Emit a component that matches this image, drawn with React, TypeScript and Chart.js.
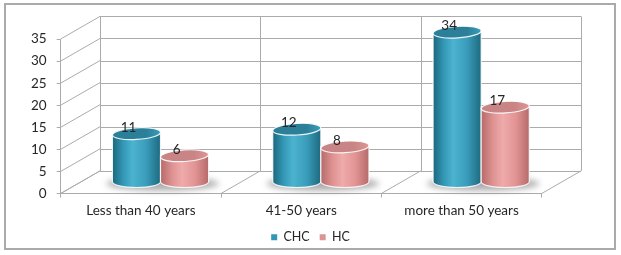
import React, { useEffect, useRef } from "react";
import { Chart, registerables } from "chart.js";

Chart.register(...registerables);

const categories = ["Less than 40 years", "41-50 years", "more than 50 years"];
const seriesNames = ["CHC", "HC"];
const chcValues = [11, 12, 34];
const hcValues = [6, 8, 17];
const yMin = 0;
const yMax = 35;
const yStep = 5;

const FONT = "Lato";
const TEXT = "#262626";
const GRID = "#ababab";
const DX = 39.3;
const DY = -22.6;

const palette = [
  {
    legend: "#3197b6",
    top: "#2b7f98",
    body: [
      [0, "#1c667c"],
      [0.22, "#3397b6"],
      [0.42, "#4cb3cf"],
      [0.7, "#3a9dbb"],
      [1, "#1d6a80"],
    ],
  },
  {
    legend: "#dd9494",
    top: "#c98585",
    body: [
      [0, "#b56969"],
      [0.25, "#df9393"],
      [0.45, "#efaaaa"],
      [0.72, "#e29494"],
      [1, "#b56a6a"],
    ],
  },
];

const threeD = {
  id: "threeD",
  beforeDatasetsDraw(chart: any) {
    const { ctx, chartArea: a, scales } = chart;
    const xs = scales.x;
    const ys = scales.y;
    const n = chart.data.labels.length;
    const tickPx: number[] = ys.ticks.map((t: any) => ys.getPixelForValue(t.value));
    const bounds: number[] = [];
    for (let k = 0; k <= n; k++) bounds.push(xs.getPixelForValue(k - 0.5));
    const r = (v: number) => Math.round(v) + 0.5;

    ctx.save();
    ctx.strokeStyle = GRID;
    ctx.lineWidth = 1;
    ctx.beginPath();
    for (const py of tickPx) {
      ctx.moveTo(a.left + DX, r(py + DY));
      ctx.lineTo(a.right + DX, r(py + DY));
      ctx.moveTo(a.left, py);
      ctx.lineTo(a.left + DX, py + DY);
    }
    for (const bx of bounds) {
      ctx.moveTo(r(bx + DX), a.top + DY);
      ctx.lineTo(r(bx + DX), a.bottom + DY);
      ctx.moveTo(bx, a.bottom);
      ctx.lineTo(bx + DX, a.bottom + DY);
    }
    ctx.stroke();

    const RY = 5.8;
    const ROT = -0.06;
    const bars: any[] = [];
    chart.data.datasets.forEach((ds: any, di: number) => {
      const meta = chart.getDatasetMeta(di);
      meta.data.forEach((el: any, i: number) => {
        const p = el.getProps(["x", "y", "base", "width"], true);
        bars.push({ di, i, cx: p.x + DX / 2, top: p.y + DY / 2, base: p.base + DY / 2, w: p.width, v: ds.data[i] });
      });
    });

    for (let i = 0; i < n; i++) {
      const group = bars.filter((b) => b.i === i);
      const l = Math.min(...group.map((b) => b.cx - b.w / 2));
      const rr = Math.max(...group.map((b) => b.cx + b.w / 2));
      const base = group[0].base;
      ctx.save();
      ctx.filter = "blur(3px)";
      ctx.fillStyle = "rgba(70,70,70,0.45)";
      ctx.beginPath();
      ctx.ellipse((l + rr) / 2 + 2, base + 2, (rr - l) / 2 + 8, RY + 1, 0, 0, Math.PI * 2);
      ctx.fill();
      ctx.restore();
    }

    for (let i = 0; i < n; i++) {
      for (const b of bars.filter((bb) => bb.i === i).sort((p, q) => p.di - q.di)) {
        const pal = palette[b.di];
        const rx = b.w / 2;
        const left = b.cx - rx;
        const right = b.cx + rx;
        const g = ctx.createLinearGradient(left, 0, right, 0);
        for (const [o, c] of pal.body) g.addColorStop(o as number, c as string);
        ctx.beginPath();
        ctx.moveTo(left, b.top);
        ctx.lineTo(left, b.base);
        ctx.ellipse(b.cx, b.base, rx, RY, 0, Math.PI, 0, true);
        ctx.lineTo(right, b.top);
        ctx.closePath();
        ctx.fillStyle = g;
        ctx.fill();
        ctx.strokeStyle = "rgba(255,255,255,0.85)";
        ctx.lineWidth = 1.2;
        ctx.stroke();

        ctx.beginPath();
        ctx.ellipse(b.cx, b.top, rx, RY, ROT, 0, Math.PI * 2);
        const tg = ctx.createLinearGradient(left, 0, right, 0);
        tg.addColorStop(0, pal.top);
        tg.addColorStop(0.7, pal.top);
        tg.addColorStop(1, pal.body[3][1] as string);
        ctx.fillStyle = tg;
        ctx.fill();
        ctx.strokeStyle = "rgba(255,255,255,0.9)";
        ctx.lineWidth = 1.2;
        ctx.stroke();
      }
    }

    ctx.fillStyle = TEXT;
    ctx.font = `13.5px ${FONT}`;
    ctx.textAlign = "center";
    ctx.textBaseline = "middle";
    for (const b of bars) {
      ctx.fillText(String(b.v), b.cx - 8, b.top - 6.5);
    }
    ctx.restore();
    return false;
  },
};

export default function App() {
  const ref = useRef<HTMLCanvasElement | null>(null);
  useEffect(() => {
    if (!ref.current) return;
    const chart = new Chart(ref.current, {
      type: "bar",
      data: {
        labels: categories,
        datasets: [
          { label: seriesNames[0], data: chcValues, backgroundColor: palette[0].legend, borderWidth: 0 },
          { label: seriesNames[1], data: hcValues, backgroundColor: palette[1].legend, borderWidth: 0 },
        ],
      },
      options: {
        responsive: false,
        animation: false,
        devicePixelRatio: 1,
        datasets: { bar: { categoryPercentage: 0.6, barPercentage: 1 } },
        layout: { padding: { top: 39, left: 0, right: 0, bottom: 1.5 } },
        scales: {
          x: {
            offset: true,
            grid: { offset: true, drawOnChartArea: false, drawTicks: true, tickLength: 4, color: GRID },
            border: { display: true, color: GRID },
            ticks: { color: TEXT, font: { family: FONT, size: 13.5 }, padding: 5, maxRotation: 0 },
            afterFit: (s: any) => {
              s.height = 27.5;
            },
          },
          y: {
            min: yMin,
            max: yMax,
            ticks: { stepSize: yStep, color: TEXT, font: { family: FONT, size: 13.5 }, padding: 10 },
            grid: { drawOnChartArea: false, drawTicks: true, tickLength: 4, color: GRID },
            border: { display: true, color: GRID },
            afterFit: (s: any) => {
              s.width = 60.7;
            },
          },
          yRight: {
            position: "right",
            min: yMin,
            max: yMax,
            ticks: { display: false },
            grid: { display: false, drawTicks: false },
            border: { display: false },
            afterFit: (s: any) => {
              s.width = 79.3;
            },
          },
        },
        plugins: {
          legend: {
            position: "bottom",
            labels: { boxWidth: 6, boxHeight: 6, padding: 10, color: TEXT, font: { family: FONT, size: 12.5 } },
          },
          tooltip: { enabled: false },
        },
      },
      plugins: [threeD],
    });
    return () => chart.destroy();
  }, []);

  return (
    <div style={{ position: "fixed", left: 0, top: 0, width: 621, height: 255, background: "#fff" }}>
      <canvas ref={ref} width={621} height={255} style={{ position: "absolute", left: 0, top: 0 }} />
      <div
        style={{
          position: "absolute",
          left: 4,
          top: 3,
          width: 612,
          height: 247,
          border: "2px solid #aaaaaa",
          boxSizing: "border-box",
          pointerEvents: "none",
        }}
      />
    </div>
  );
}
